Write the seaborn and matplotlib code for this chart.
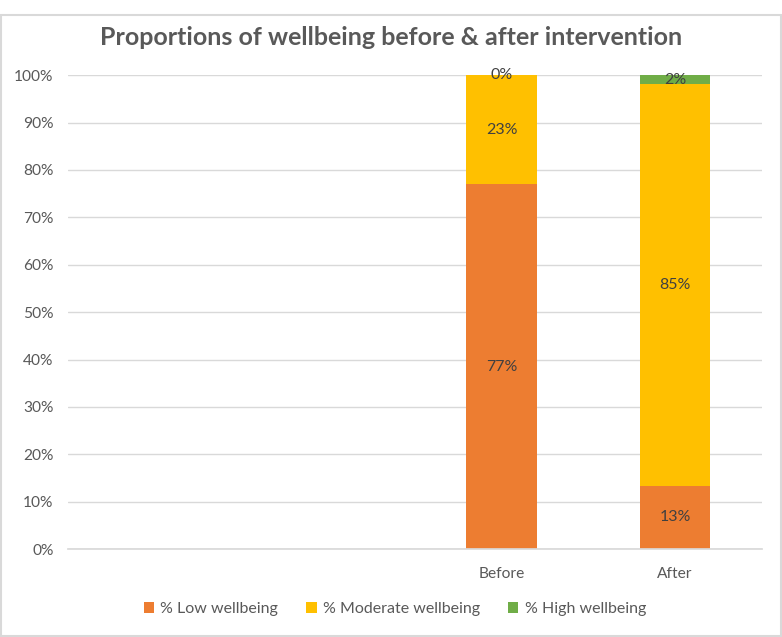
import numpy as np
import pandas as pd
import matplotlib.pyplot as plt
import seaborn as sns
from matplotlib.patches import Rectangle, Patch

# data
categories = ["", " ", "Before", "After"]
low_wellbeing = [0, 0, 77, 13.4]
moderate_wellbeing = [0, 0, 23, 84.7]
high_wellbeing = [0, 0, 0, 1.9]
series_names = ["% Low wellbeing", "% Moderate wellbeing", "% High wellbeing"]
series_colors = ["#ED7D31", "#FFC000", "#70AD47"]
has_labels = [False, False, True, True]

sns.set_theme(style="white")
plt.rcParams['font.family'] = ['Lato', 'DejaVu Sans']

df = pd.DataFrame({
    "cat": categories,
    "low": low_wellbeing,
    "mod": moderate_wellbeing,
    "high": high_wellbeing,
})
vals = df[["low", "mod", "high"]].to_numpy()
cum = np.cumsum(vals, axis=1)

fig = plt.figure(figsize=(7.82, 6.37), dpi=100)
ax = fig.add_axes([0.087, 0.138, 0.887, 0.744])

# stacked bars drawn as overlapping cumulative totals, top series first
for k in [2, 1, 0]:
    sns.barplot(x=df["cat"], y=cum[:, k], order=categories, color=series_colors[k],
                width=0.405, linewidth=0, saturation=1, ax=ax)

# data labels in the middle of each segment
for i, cat in enumerate(categories):
    if not has_labels[i]:
        continue
    for k in range(3):
        v = vals[i, k]
        ax.text(i, cum[i, k] - v / 2, f"{v:.0f}%", ha="center", va="center",
                fontsize=11.5, color="#404040")

ax.set_ylim(0, 100)
ax.set_xlim(-0.5, len(categories) - 0.5)
ax.set_yticks(np.arange(0, 101, 10))
ax.set_yticklabels([f"{t}%" for t in range(0, 101, 10)])
ax.yaxis.grid(True, color="#D9D9D9", linewidth=1)
ax.set_axisbelow(True)
ax.set_xlabel("")
ax.set_ylabel("")
for s in ["top", "right", "left"]:
    ax.spines[s].set_visible(False)
ax.spines["bottom"].set_color("#D9D9D9")
ax.tick_params(axis="both", length=0, colors="#595959", labelsize=11.2)
ax.tick_params(axis="x", pad=13)
ax.tick_params(axis="y", pad=10.5)

fig.text(0.5, 0.941, "Proportions of wellbeing before & after intervention",
         ha="center", va="center", fontsize=18, fontweight="bold", color="#595959")

handles = [Patch(facecolor=c, edgecolor="none") for c in series_colors]
fig.legend(handles, series_names, loc="center", bbox_to_anchor=(0.505, 0.044),
           ncol=3, frameon=False, fontsize=11.5, handlelength=0.65, handleheight=0.65,
           handletextpad=0.4, columnspacing=1.75, labelcolor="#595959")

fig.patches.append(Rectangle((0.001, 0.001), 0.998, 0.975, transform=fig.transFigure,
                             fill=False, edgecolor="#D9D9D9", linewidth=1.5))

fig.savefig("out.png", dpi=100)
